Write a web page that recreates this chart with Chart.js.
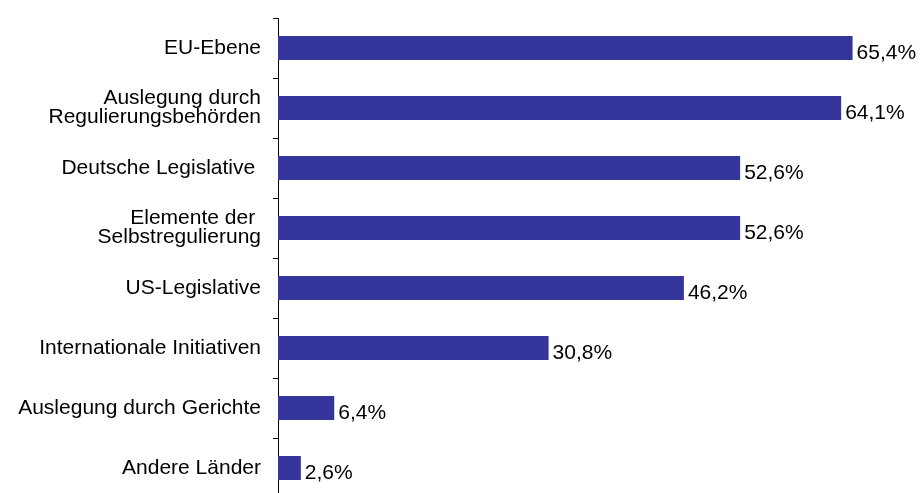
<!DOCTYPE html>
<html lang="de">
<head>
  <meta charset="UTF-8" />
  <script src="https://cdn.jsdelivr.net/npm/chart.js"></script>
  <title>Regulierung</title>
  <style>
    * { padding: 0; margin: 0; }
    html, body { background: #fff; overflow: hidden; }
    .wrap { position: relative; width: 920px; height: 498px; }
  </style>
</head>
<body>
  <div class="wrap">
    <canvas id="chart"></canvas>
  </div>
<script>
  // Data
  const categories = [
    'EU-Ebene',
    ['Auslegung durch', 'Regulierungsbehörden'],
    'Deutsche Legislative ',
    ['Elemente der ', 'Selbstregulierung'],
    'US-Legislative',
    'Internationale Initiativen',
    'Auslegung durch Gerichte',
    'Andere Länder'
  ];
  const shares = [65.4, 64.1, 52.6, 52.6, 46.2, 30.8, 6.4, 2.6];

  const barColor = '#35359b';
  const font = 'Arial, "Liberation Sans", sans-serif';

  // percentage labels right of each bar
  const valueLabels = {
    id: 'valueLabels',
    afterDatasetsDraw(chart) {
      const ctx = chart.ctx;
      const meta = chart.getDatasetMeta(0);
      ctx.save();
      ctx.font = '21px ' + font;
      ctx.fillStyle = '#000';
      ctx.textAlign = 'left';
      ctx.textBaseline = 'middle';
      meta.data.forEach(function (bar, i) {
        const txt = shares[i].toFixed(1).replace('.', ',') + '%';
        ctx.fillText(txt, bar.x + 4, bar.y + 5);
      });
      ctx.restore();
    }
  };

  new Chart(document.getElementById('chart'), {
    type: 'bar',
    data: {
      labels: categories,
      datasets: [{
        data: shares,
        backgroundColor: barColor,
        barPercentage: 0.4,
        categoryPercentage: 1.0
      }]
    },
    options: {
      indexAxis: 'y',
      responsive: true,
      maintainAspectRatio: false,
      animation: false,
      layout: { padding: { top: 18, right: 27, bottom: 0, left: 0 } },
      plugins: {
        legend: { display: false },
        tooltip: { enabled: false }
      },
      scales: {
        x: {
          display: false,
          min: 0,
          max: 70
        },
        y: {
          afterFit: function (scale) {
            scale.width = 278;
            scale.paddingTop = 0;
            scale.paddingBottom = 0;
          },
          border: { display: true, color: '#000', width: 1 },
          grid: {
            display: true,
            drawOnChartArea: false,
            drawTicks: true,
            tickLength: 5,
            color: '#000',
            offset: true
          },
          ticks: {
            color: '#000',
            padding: 12,
            font: { family: font, size: 21, lineHeight: 0.92 }
          }
        }
      }
    },
    plugins: [valueLabels]
  });
</script>
</body>
</html>
